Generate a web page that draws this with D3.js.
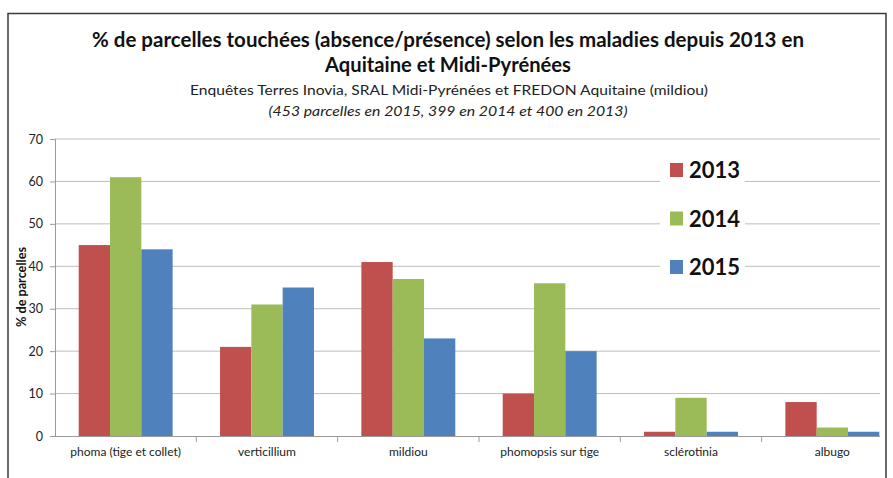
<!DOCTYPE html>
<html><head><meta charset="utf-8">
<script src="https://cdn.jsdelivr.net/npm/d3@7"></script>
<style>body{margin:0;background:#fff}svg{display:block}</style>
</head><body>
<svg id="c" width="893" height="478"></svg>
<script>
const categories = ["phoma (tige et collet)", "verticillium", "mildiou", "phomopsis sur tige", "sclérotinia", "albugo"];
const years = ["2013", "2014", "2015"];
const values2013 = [45, 21, 41, 10, 1, 8];
const values2014 = [61, 31, 37, 36, 9, 2];
const values2015 = [44, 35, 23, 20, 1, 1];
const yTicks = [0, 10, 20, 30, 40, 50, 60, 70];
const colors = ["#C0504D", "#9BBB59", "#4F81BD"];
const titleLines = ["% de parcelles touchées (absence/présence) selon les maladies depuis 2013 en", "Aquitaine et Midi-Pyrénées"];
const subtitle = "Enquêtes Terres Inovia, SRAL Midi-Pyrénées et FREDON Aquitaine (mildiou)";
const subtitle2 = "(453 parcelles en 2015, 399 en 2014 et 400 en 2013)";
const yTitle = "% de parcelles";

const series = [values2013, values2014, values2015];
const svg = d3.select("#c");
const font = "Lato, 'Open Sans', sans-serif";

// frame
svg.append("path").attr("d", "M8,478 V13.5 H886 V478").attr("fill", "none").attr("stroke", "#3a3a3a").attr("stroke-width", 1.5);

const left = 55, right = 880, plotEnd = 903;
const y = d3.scaleLinear().domain([0, 70]).range([436, 139]);
const x0 = d3.scaleBand().domain(categories).range([left, plotEnd]).paddingInner(0).paddingOuter(0);
const x1 = d3.scaleBand().domain(years).range([0, x0.bandwidth()]).paddingInner(0).paddingOuter(0.757);

// gridlines
svg.append("g").selectAll("line").data(yTicks.filter(d => d > 0)).join("line")
  .attr("x1", left).attr("x2", right).attr("y1", d => y(d)).attr("y2", d => y(d))
  .attr("stroke", "#bdbdbd").attr("stroke-width", 1);

// y axis
const yAxis = svg.append("g").attr("transform", `translate(${left},0)`)
  .call(d3.axisLeft(y).tickValues(yTicks).tickSize(5).tickPadding(7));
yAxis.select(".domain").attr("stroke", "#9a9a9a");
yAxis.selectAll(".tick line").attr("stroke", "#9a9a9a");
yAxis.selectAll("text").attr("font-family", font).attr("font-size", 12.5).attr("fill", "#222");

// bars
const g = svg.append("g");
categories.forEach((c, i) => {
  years.forEach((yr, j) => {
    g.append("rect")
      .attr("x", x0(c) + x1(yr)).attr("width", x1.bandwidth())
      .attr("y", y(series[j][i])).attr("height", y(0) - y(series[j][i]))
      .attr("fill", colors[j]);
  });
});

// x axis
svg.append("line").attr("x1", left).attr("x2", right).attr("y1", y(0) + 0.5).attr("y2", y(0) + 0.5).attr("stroke", "#9a9a9a");
svg.append("g").selectAll("line").data(categories.slice(1)).join("line")
  .attr("x1", d => x0(d)).attr("x2", d => x0(d)).attr("y1", y(0)).attr("y2", y(0) + 6).attr("stroke", "#9a9a9a");
svg.append("g").selectAll("text").data(categories).join("text")
  .attr("x", d => x0(d) + x0.bandwidth() / 2).attr("y", 455.5)
  .attr("text-anchor", "middle").attr("font-family", font).attr("font-size", 12).attr("fill", "#222")
  .text(d => d);

// y title
svg.append("text").attr("transform", "translate(26,287) rotate(-90)")
  .attr("text-anchor", "middle").attr("font-family", font).attr("font-weight", "bold").attr("font-size", 13).attr("fill", "#111")
  .attr("textLength", 80).attr("lengthAdjust", "spacingAndGlyphs")
  .text(yTitle);

// titles
svg.append("text").attr("x", 448).attr("y", 47).attr("text-anchor", "middle")
  .attr("font-family", font).attr("font-weight", "bold").attr("font-size", 20).attr("fill", "#111")
  .attr("textLength", 712).attr("lengthAdjust", "spacingAndGlyphs").text(titleLines[0]);
svg.append("text").attr("x", 448).attr("y", 72).attr("text-anchor", "middle")
  .attr("font-family", font).attr("font-weight", "bold").attr("font-size", 20).attr("fill", "#111")
  .attr("textLength", 246).attr("lengthAdjust", "spacingAndGlyphs").text(titleLines[1]);
svg.append("text").attr("x", 449).attr("y", 95).attr("text-anchor", "middle")
  .attr("font-family", font).attr("font-size", 14).attr("fill", "#222")
  .attr("textLength", 518).attr("lengthAdjust", "spacingAndGlyphs").text(subtitle);
svg.append("text").attr("x", 448).attr("y", 116).attr("text-anchor", "middle")
  .attr("font-family", font).attr("font-style", "italic").attr("font-size", 14).attr("fill", "#222")
  .attr("textLength", 359).attr("lengthAdjust", "spacingAndGlyphs").text(subtitle2);

// legend
svg.append("rect").attr("x", 660).attr("y", 150).attr("width", 85).attr("height", 135).attr("fill", "#fff");
const lg = svg.append("g");
years.forEach((yr, j) => {
  const cy = 170 + j * 48.5;
  lg.append("rect").attr("x", 670).attr("y", cy - 7).attr("width", 13).attr("height", 14).attr("fill", colors[j]);
  lg.append("text").attr("x", 689).attr("y", cy + 8).attr("font-family", font).attr("font-weight", "bold")
    .attr("font-size", 22).attr("fill", "#111").text(yr);
});
</script>
</body></html>
